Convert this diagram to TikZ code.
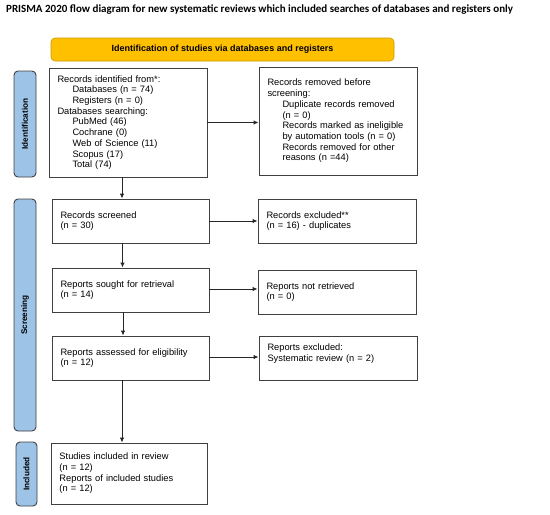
\documentclass[tikz,border=0pt]{standalone}
\usepackage{fontspec}
\setmainfont{Liberation Sans}
\newfontfamily\titlefont{Carlito}
\usetikzlibrary{arrows.meta,calc}
\definecolor{sideblue}{HTML}{9DC3E6}
\definecolor{idyellow}{HTML}{FFC000}
\definecolor{boxline}{HTML}{404040}
\newcommand{\ind}{\hspace*{15pt}}
\begin{document}
\begin{tikzpicture}[x=1pt,y=-1pt,
  every node/.style={font=\fontsize{9.3}{10.7}\selectfont},
  box/.style={draw=boxline, line width=0.9pt, rectangle, inner xsep=8.5pt, inner ysep=2pt, align=left},
  side/.style={draw=boxline, line width=0.9pt, fill=sideblue, rounded corners=4pt, inner sep=0pt},
  sidetext/.style={font=\bfseries\fontsize{8.2}{10}\selectfont, rotate=90},
  arr/.style={line width=0.9pt, draw=black!85, -{Latex[length=5pt,width=4.5pt]}}
]
\useasboundingbox (0,0) rectangle (550,515);

% title
\node[font=\titlefont\bfseries\fontsize{11}{13}\selectfont, anchor=west, inner sep=0pt] (title) at (6,10) {PRISMA 2020 flow diagram for new systematic reviews which included searches of databases and registers only};

% header
\node[draw=idyellow!80!black, line width=0.6pt, fill=idyellow, rounded corners=4pt, minimum width=343pt, minimum height=23pt, font=\bfseries\fontsize{9}{10}\selectfont] (head) at (222.5,49.5) {Identification of studies via databases and registers};

% side bars
\node[side, minimum width=22pt, minimum height=106pt] (sid) at (25,124) {};
\node[sidetext] (sidt) at (sid.center) {Identification};
\node[side, minimum width=22pt, minimum height=232pt] (ssc) at (25,315) {};
\node[sidetext] (ssct) at (ssc.center) {Screening};
\node[side, minimum width=21pt, minimum height=64pt] (sin) at (26.5,474) {};
\node[sidetext] (sint) at (sin.center) {Included};

% boxes
\node[box, minimum width=158pt, minimum height=109pt, text width=141pt] (b1) at (128,122.5) {Records identified from*:\\
\ind Databases (n = 74)\\
\ind Registers (n = 0)\\
Databases searching:\\
\ind PubMed (46)\\
\ind Cochrane (0)\\
\ind Web of Science (11)\\
\ind Scopus (17)\\
\ind Total (74)};

\node[box, minimum width=158pt, minimum height=108pt, text width=141pt] (b2) at (338,121) {Records removed before\\
screening:\\
\ind Duplicate records removed\\
\ind (n = 0)\\
\ind Records marked as ineligible\\
\ind by automation tools (n = 0)\\
\ind Records removed for other\\
\ind reasons (n =44)};

\node[box, minimum width=157pt, minimum height=44pt, text width=140pt] (b3) at (130.5,221) {Records screened\\(n = 30)};
\node[box, minimum width=158pt, minimum height=44pt, text width=141pt] (b4) at (337,221) {Records excluded**\\(n = 16) - duplicates};

\node[box, minimum width=157pt, minimum height=44pt, text width=140pt] (b5) at (130.5,290) {Reports sought for retrieval\\(n = 14)};
\node[box, minimum width=158pt, minimum height=44pt, text width=141pt] (b6) at (337,292) {Reports not retrieved\\(n = 0)};

\node[box, minimum width=157pt, minimum height=44pt, text width=140pt] (b7) at (130.5,358) {Reports assessed for eligibility\\(n = 12)};
\node[box, minimum width=158pt, minimum height=44pt, text width=141pt] (b8) at (338,358) {Reports excluded:\\Systematic review (n = 2)\\\mbox{}};

\node[box, minimum width=156pt, minimum height=61pt, text width=139pt] (b9) at (129,473.5) {Studies included in review\\(n = 12)\\Reports of included studies\\(n = 12)};

% connectors
\draw[arr] (b1.east) -- (b1.east -| b2.west);
\draw[arr] (b3.east) -- (b3.east -| b4.west);
\draw[arr] ([yshift=1pt]b5.east) -- ([yshift=1pt]b5.east -| b6.west);
\draw[arr] ([yshift=1pt]b7.east) -- ([yshift=1pt]b7.east -| b8.west);

\draw[arr] ([xshift=-6pt]b1.south) -- ([xshift=-6pt]b1.south |- b3.north);
\draw[arr] ([xshift=-8pt]b3.south) -- ([xshift=-8pt]b3.south |- b5.north);
\draw[arr] ([xshift=-7.5pt]b5.south) -- ([xshift=-7.5pt]b5.south |- b7.north);
\draw[arr] ([xshift=-8.5pt]b7.south) -- ([xshift=-8.5pt]b7.south |- b9.north);
\end{tikzpicture}
\end{document}
